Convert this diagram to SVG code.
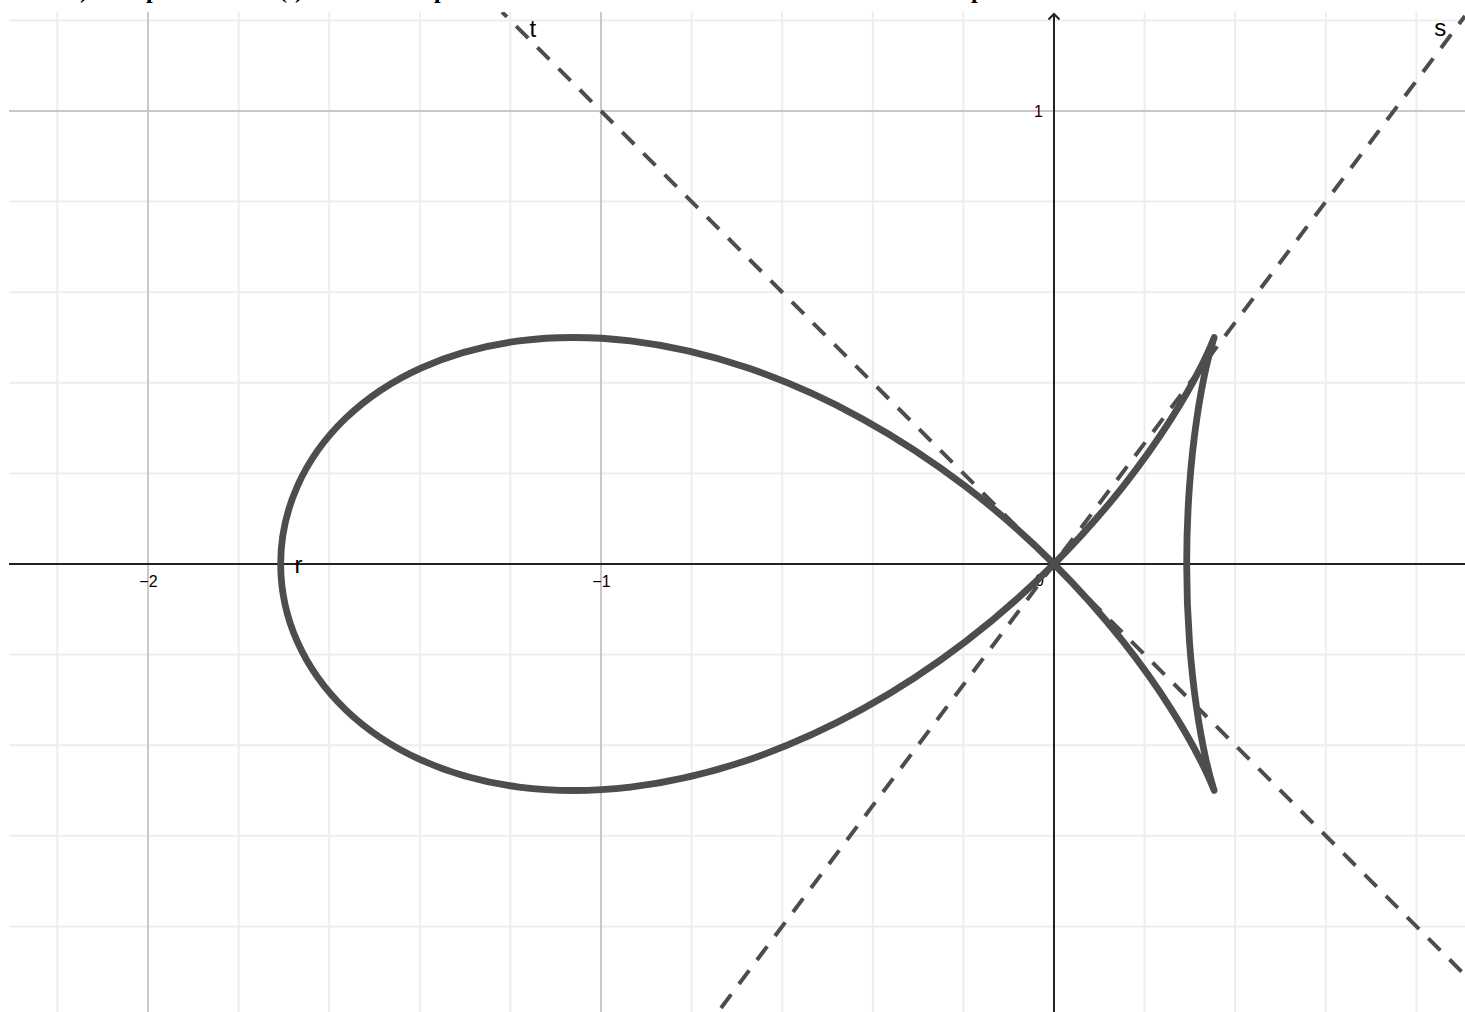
<svg xmlns="http://www.w3.org/2000/svg" width="1465" height="1012" viewBox="0 0 1465 1012">
<style>
.minor{stroke:#ededed;stroke-width:2;fill:none}
.major{stroke:#c8c8c8;stroke-width:2;fill:none}
.axis{stroke:#222;stroke-width:2;fill:none}
.curve{stroke:#4d4d4d;stroke-width:6.8;fill:none;stroke-linejoin:round;stroke-linecap:round}
.dash{stroke:#4d4d4d;stroke-width:4;fill:none;stroke-dasharray:17 13}
.tick{font-family:"Liberation Sans",Arial,sans-serif;font-size:16px;fill:#000}
.lbl{font-family:"Liberation Sans",Arial,sans-serif;font-size:24px;fill:#000}
.frag{font-family:"Liberation Serif","Times New Roman",serif;font-size:24px;font-weight:bold;fill:#000}
</style>
<defs>
<clipPath id="area"><rect x="9" y="12" width="1456" height="1000"/></clipPath>
</defs>
<rect width="1465" height="1012" fill="#fff"/>
<g id="header-fragments">
<text class="frag" x="80" y="-2">)</text>
<text class="frag" x="146" y="-2">p</text>
<text class="frag" x="279" y="-2">(t)</text>
<text class="frag" x="434" y="-2">p</text>
<text class="frag" x="971" y="-2">p</text>
</g>
<g id="grid" clip-path="url(#area)">
<path class="minor" d="M57.4 12V1012M238.6 12V1012M329.2 12V1012M419.8 12V1012M510.4 12V1012M691.6 12V1012M782.2 12V1012M872.8 12V1012M963.4 12V1012M1144.6 12V1012M1235.2 12V1012M1325.8 12V1012M1416.4 12V1012"/>
<path class="minor" d="M9 20.4H1465M9 201.6H1465M9 292.2H1465M9 382.8H1465M9 473.4H1465M9 654.6H1465M9 745.2H1465M9 835.8H1465M9 926.4H1465"/>
<path class="major" d="M148 12V1012M601 12V1012M9 111H1465"/>
</g>
<g id="axes">
<path class="axis" d="M9 564H1465"/>
<path class="axis" d="M1054 14V1012"/>
<path class="axis" d="M1048.5 19.5L1054 14L1059.5 19.5"/>
<text class="tick" x="139.3" y="587">−2</text>
<text class="tick" x="592.3" y="587">−1</text>
<text class="tick" x="1035" y="586">0</text>
<text class="tick" x="1034" y="117">1</text>
</g>
<g id="connectors" clip-path="url(#area)">
<path id="line-t" class="dash" style="stroke-dashoffset:10" d="M502 12L1465 975"/>
<path id="line-s" class="dash" style="stroke-dashoffset:7" d="M1465 16L718 1012"/>
</g>
<g id="curve">
<path class="curve" d="M280.68 564C280.68 537.65 286.27 511.3 297.22 486.53C308.17 461.76 324.48 438.6 345.47 418.41C366.46 398.22 392.13 381.02 421.45 367.84C450.77 354.66 483.72 345.52 519.01 340.94C554.3 336.36 591.93 336.36 630.47 340.94C669.01 345.52 708.46 354.66 747.42 367.84C786.38 381.02 824.85 398.22 861.59 418.41C898.33 438.6 933.35 461.76 965.68 486.53C998.01 511.3 1027.64 537.64 1054 564C1080.36 590.36 1103.42 616.7 1123 641.47C1142.58 666.24 1158.68 689.4 1171.47 709.59C1184.26 729.78 1193.73 746.98 1200.42 760.16C1207.11 773.34 1210.99 782.48 1212.83 787.06C1214.67 791.64 1214.46 791.64 1213.05 787.06C1211.64 782.48 1209.03 773.34 1206.07 760.16C1203.11 746.98 1199.79 729.78 1196.83 709.59C1193.87 689.4 1191.26 666.24 1189.46 641.47C1187.66 616.7 1186.68 590.36 1186.68 564C1186.68 537.64 1187.66 511.3 1189.46 486.53C1191.26 461.76 1193.87 438.6 1196.83 418.41C1199.79 398.22 1203.11 381.02 1206.07 367.84C1209.03 354.66 1211.64 345.52 1213.05 340.94C1214.46 336.36 1214.67 336.36 1212.83 340.94C1210.99 345.52 1207.11 354.66 1200.42 367.84C1193.73 381.02 1184.26 398.22 1171.47 418.41C1158.68 438.6 1142.58 461.76 1123 486.53C1103.42 511.3 1080.36 537.64 1054 564C1027.64 590.36 998.01 616.7 965.68 641.47C933.35 666.24 898.33 689.4 861.59 709.59C824.85 729.78 786.38 746.98 747.42 760.16C708.46 773.34 669.01 782.48 630.47 787.06C591.93 791.64 554.3 791.64 519.01 787.06C483.72 782.48 450.77 773.34 421.45 760.16C392.13 746.98 366.46 729.78 345.47 709.59C324.48 689.4 308.17 666.24 297.22 641.47C286.27 616.7 280.68 590.36 280.68 564Z"/>
</g>
<g id="labels">
<text class="lbl" x="529.6" y="37">t</text>
<text class="lbl" x="1434.3" y="36">s</text>
<text class="lbl" x="294.5" y="573">r</text>
</g>
</svg>
